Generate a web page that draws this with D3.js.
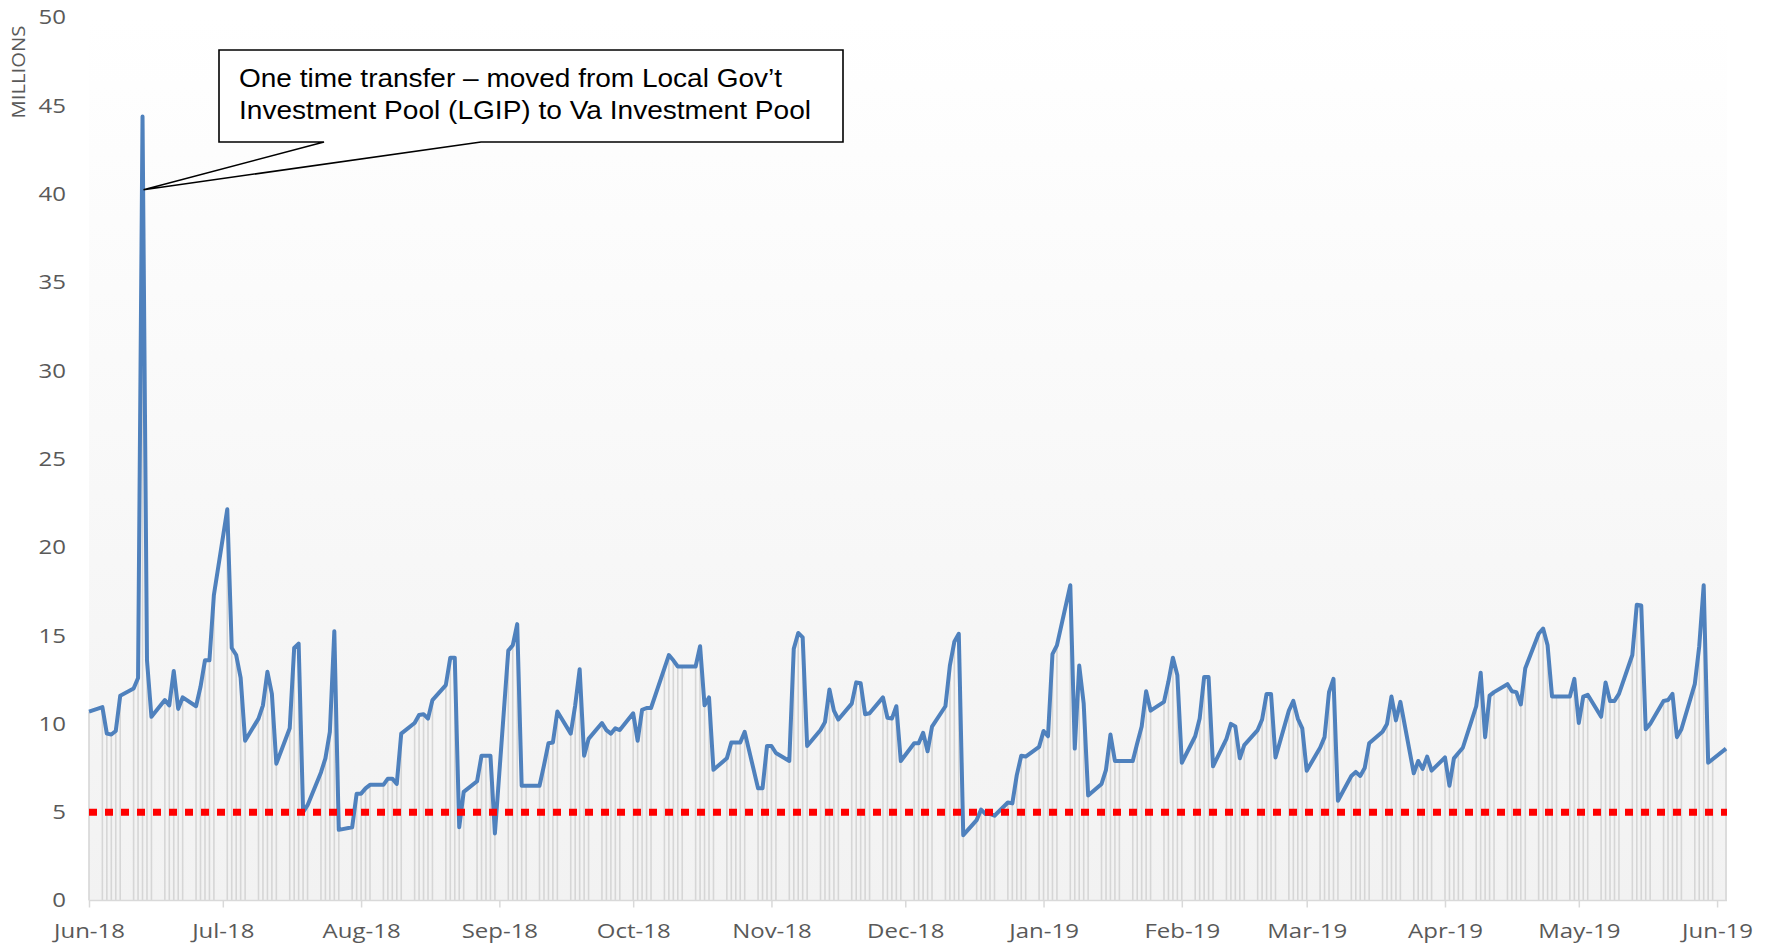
<!DOCTYPE html>
<html>
<head>
<meta charset="utf-8">
<script src="https://cdn.jsdelivr.net/npm/d3@7/dist/d3.min.js"></script>
<style>
  html, body { margin: 0; padding: 0; background: #ffffff; }
  svg { display: block; }
</style>
</head>
<body>
<svg id="chart" width="1773" height="943"></svg>
<script>
// ---------------- DATA ----------------
// Daily balance (millions), one value per business day (Mon–Fri), 1 Jun 2018 – 3 Jun 2019
const startDate = "2018-06-01";
const endDate = "2019-06-03";
const values = [
  10.7,
  10.95, 9.45, 9.4, 9.6, 11.6,
  12.0, 12.6, 44.4, 13.6, 10.4,
  11.35, 11.05, 13.0, 10.85, 11.5,
  11.0, 12.1, 13.6, 13.6, 17.3,
  22.15, 14.3, 13.9, 12.6, 9.05,
  10.3, 11.05, 12.95, 11.7, 7.75,
  9.75, 14.3, 14.55, 5.0, 5.4,
  7.25, 8.05, 9.55, 15.25, 4.0,
  4.15, 6.05, 6.05, 6.35, 6.55,
  6.55, 6.9, 6.9, 6.6, 9.45,
  10.05, 10.5, 10.55, 10.3, 11.35,
  12.2, 13.75, 13.75, 4.15, 6.15,
  6.75, 8.2, 8.2, 8.2, 3.8,
  14.15, 14.45, 15.65, 6.5, 6.5,
  6.5, 7.65, 8.9, 8.95, 10.7,
  9.45, 11.05, 13.1, 8.2, 9.15,
  10.05, 9.65, 9.45, 9.75, 9.65,
  10.6, 9.05, 10.8, 10.9, 10.9,
  13.15, 13.9, 13.6, 13.25, 13.25,
  13.25, 14.4, 11.05, 11.5, 7.4,
  8.05, 8.95, 8.95, 8.95, 9.55,
  6.35, 6.35, 8.75, 8.75, 8.35,
  7.9, 14.25, 15.15, 14.9, 8.75,
  9.65, 10.1, 11.95, 10.75, 10.25,
  11.15, 12.35, 12.3, 10.55, 10.6,
  11.5, 10.35, 10.3, 11.0, 7.9,
  8.9, 8.9, 9.5, 8.45, 9.85,
  11.0, 13.3, 14.65, 15.1, 3.7,
  4.55, 5.15, 4.9, 4.9, 4.8,
  5.55, 5.5, 7.1, 8.2, 8.15,
  8.7, 9.6, 9.3, 13.95, 14.45,
  17.85, 8.6, 13.3, 11.15, 5.95,
  6.6, 7.4, 9.4, 7.9, 7.9,
  7.9, 8.9, 9.85, 11.85, 10.75,
  11.25, 12.4, 13.75, 12.75, 7.8,
  9.3, 10.3, 12.65, 12.65, 7.6,
  9.15, 10.0, 9.85, 8.05, 8.8,
  9.65, 10.25, 11.7, 11.7, 8.1,
  10.75, 11.3, 10.3, 9.75, 7.35,
  8.65, 9.25, 11.8, 12.55, 5.65,
  7.05, 7.28, 7.05, 7.5, 8.9,
  9.55, 10.0, 11.55, 10.2, 11.25,
  7.2, 7.9, 7.45, 8.15, 7.35,
  8.1, 6.5, 8.05, 8.35, 8.65,
  11.0, 12.9, 9.25, 11.6, 11.8,
  12.25, 11.85, 11.8, 11.1, 13.15,
  15.1, 15.4, 14.45, 11.55, 11.55,
  11.55, 12.55, 10.05, 11.55, 11.65,
  10.4, 12.35, 11.3, 11.3, 11.7,
  13.9, 16.75, 16.7, 9.7, 10.0,
  11.3, 11.35, 11.7, 9.25, 9.7,
  12.25, 14.4, 17.85, 7.8, 8.0,
  8.6
];
const thresholdValue = 5;
const yTicks = [0, 5, 10, 15, 20, 25, 30, 35, 40, 45, 50];
const monthTicks = ["2018-06-01","2018-07-01","2018-08-01","2018-09-01","2018-10-01","2018-11-01",
  "2018-12-01","2019-01-01","2019-02-01","2019-03-01","2019-04-01","2019-05-01","2019-06-01"];
const monthLabels = ["Jun-18","Jul-18","Aug-18","Sep-18","Oct-18","Nov-18","Dec-18",
  "Jan-19","Feb-19","Mar-19","Apr-19","May-19","Jun-19"];
const yAxisTitle = "MILLIONS";
const calloutLines = ["One time transfer \u2013 moved from Local Gov\u2019t",
  "Investment Pool (LGIP) to Va Investment Pool"];
const calloutIndex = 8; // the one-time transfer day (13 Jun 2018)

// ---------------- BUILD ----------------
const parse = d3.timeParse("%Y-%m-%d");
const t0 = parse(startDate), t1 = parse(endDate);
const businessDays = d3.timeDay.range(t0, d3.timeDay.offset(t1, 1)).filter(d => d.getDay() % 6 !== 0);
const data = businessDays.map((d, i) => ({ date: d, value: values[i] })).filter(d => d.value != null);

const svg = d3.select("#chart");
const plot = { left: 89, right: 1726, top: 17.5, bottom: 900.5 };
const labelStretch = 1.2;

const x = d3.scaleTime().domain([t0, t1]).range([plot.left, plot.right]);
const y = d3.scaleLinear().domain([0, 50]).range([plot.bottom, plot.top]);

// background gradient
const defs = svg.append("defs");
const grad = defs.append("linearGradient").attr("id", "bg").attr("x1", 0).attr("x2", 0).attr("y1", 0).attr("y2", 1);
grad.append("stop").attr("offset", "0%").attr("stop-color", "#ffffff");
grad.append("stop").attr("offset", "100%").attr("stop-color", "#f2f2f2");
svg.append("rect")
  .attr("x", plot.left).attr("y", plot.top)
  .attr("width", 1727 - plot.left).attr("height", plot.bottom - plot.top)
  .attr("fill", "url(#bg)");

// drop lines
svg.append("g").selectAll("line").data(data).join("line")
  .attr("x1", d => x(d.date)).attr("x2", d => x(d.date))
  .attr("y1", d => y(d.value)).attr("y2", y(0))
  .attr("stroke", "#d6d6d6").attr("stroke-width", 1.6);

// x axis
const xAxis = d3.axisBottom(x)
  .tickValues(monthTicks.map(parse))
  .tickFormat((d, i) => monthLabels[i])
  .tickSize(7).tickPadding(16);
const gx = svg.append("g").attr("transform", `translate(0,${y(0)})`).call(xAxis);
gx.select(".domain").remove();
gx.insert("line", ":first-child").attr("x1", plot.left).attr("x2", 1727).attr("y1", 0).attr("y2", 0)
  .attr("stroke", "#d9d9d9").attr("stroke-width", 1.5);
gx.selectAll(".tick line").attr("stroke", "#d9d9d9").attr("stroke-width", 1.5);
gx.selectAll(".tick text")
  .attr("fill", "#595959")
  .attr("transform", `scale(${labelStretch},1)`)
  .style("font-family", "'Open Sans', sans-serif").style("font-size", "20px");

// y axis
const yAxis = d3.axisLeft(y).tickValues(yTicks).tickSize(0).tickPadding(24);
const gy = svg.append("g").attr("transform", `translate(${plot.left},0)`).call(yAxis);
gy.select(".domain").remove();
gy.selectAll(".tick text")
  .attr("fill", "#595959")
  .attr("x", -23 / labelStretch)
  .attr("transform", `scale(${labelStretch},1)`)
  .style("font-family", "'Open Sans', sans-serif").style("font-size", "20px");

// y axis title
svg.append("text")
  .attr("transform", "translate(25,72) rotate(-90)")
  .attr("text-anchor", "middle")
  .attr("fill", "#595959")
  .attr("textLength", 93).attr("lengthAdjust", "spacingAndGlyphs")
  .style("font-family", "'Open Sans', sans-serif").style("font-size", "18px")
  .text(yAxisTitle);

// series line
const line = d3.line().x(d => x(d.date)).y(d => y(d.value));
svg.append("path").datum(data)
  .attr("d", line)
  .attr("fill", "none")
  .attr("stroke", "#4f81bd")
  .attr("stroke-width", 4)
  .attr("stroke-linejoin", "round");

// threshold dotted line
svg.append("line")
  .attr("x1", plot.left).attr("x2", 1727)
  .attr("y1", y(thresholdValue)).attr("y2", y(thresholdValue))
  .attr("stroke", "#ff0000").attr("stroke-width", 7)
  .attr("stroke-dasharray", "8 8");

// callout
const tip = data[calloutIndex];
const tipX = x(tip.date) + 1, tipY = y(40.25);
const box = { x0: 219, y0: 50, x1: 843, y1: 142, b0: 324, b1: 481 };
svg.append("path")
  .attr("d", `M${box.x0},${box.y0} H${box.x1} V${box.y1} H${box.b1} L${tipX},${tipY} L${box.b0},${box.y1} H${box.x0} Z`)
  .attr("fill", "#ffffff").attr("stroke", "#000000").attr("stroke-width", 1.6)
  .attr("stroke-linejoin", "miter");
const lens = [543, 572];
calloutLines.forEach((t, i) => {
  svg.append("text")
    .attr("x", 239).attr("y", 87 + i * 32)
    .attr("fill", "#000000")
    .attr("textLength", lens[i]).attr("lengthAdjust", "spacingAndGlyphs")
    .style("font-family", "'Liberation Sans', Arial, sans-serif").style("font-size", "26px")
    .text(t);
});
</script>
</body>
</html>
